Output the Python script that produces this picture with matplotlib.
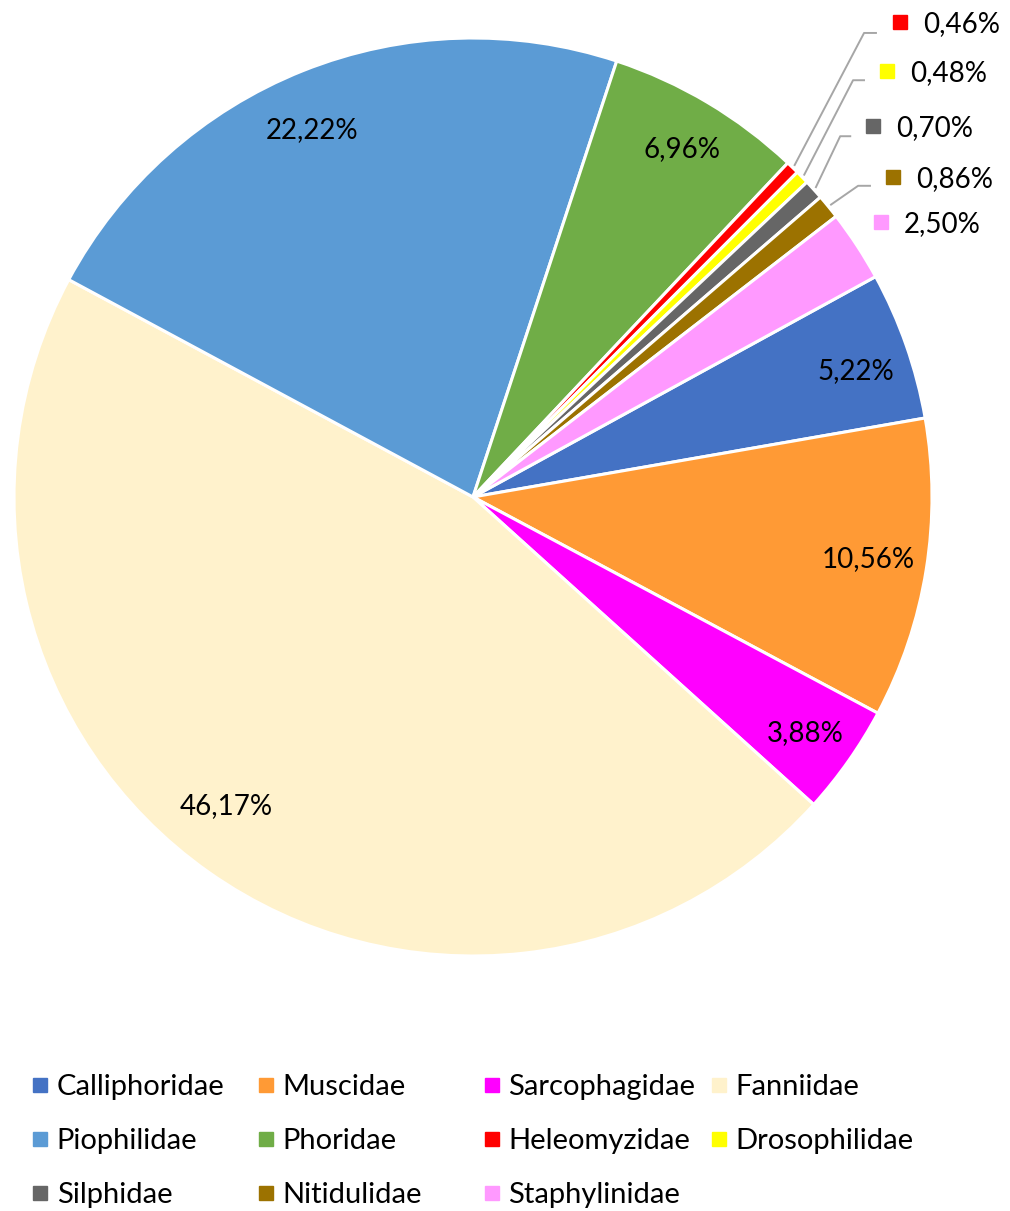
import matplotlib.pyplot as plt
import numpy as np

plt.rcParams['font.family'] = ['Lato', 'DejaVu Sans']

# 과(family)별 비율 (%)
families = ['Calliphoridae', 'Muscidae', 'Sarcophagidae', 'Fanniidae',
            'Piophilidae', 'Phoridae', 'Heleomyzidae', 'Drosophilidae',
            'Silphidae', 'Nitidulidae', 'Staphylinidae']
shares = [5.22, 10.56, 3.88, 46.17, 22.22, 6.96, 0.46, 0.48, 0.70, 0.86, 2.50]
colors = ['#4472C4', '#FF9A35', '#FF00FF', '#FFF2CC', '#5B9BD5', '#70AD47',
          '#FF0000', '#FFFF00', '#666666', '#9C7200', '#FF99FF']

# 안쪽 라벨 위치 (반지름 단위)
inside_pos = {
    'Calliphoridae': (0.834, 0.279),
    'Muscidae': (0.861, -0.131),
    'Sarcophagidae': (0.725, -0.510),
    'Fanniidae': (-0.538, -0.669),
    'Piophilidae': (-0.351, 0.804),
    'Phoridae': (0.455, 0.763),
}
# 바깥 라벨: 색 사각형 위치, 지시선 꺾임점
outside_pos = {
    'Heleomyzidae': ((0.930, 1.035), (0.852, 1.011), 0.880),
    'Drosophilidae': ((0.902, 0.928), (0.828, 0.908), 0.854),
    'Silphidae': ((0.871, 0.808), (0.800, 0.786), 0.824),
    'Nitidulidae': ((0.915, 0.697), (0.839, 0.678), 0.867),
    'Staphylinidae': ((0.889, 0.599), None, None),
}

R = 459.0
fig = plt.figure(figsize=(10.10, 12.11), dpi=100)
ax = fig.add_axes([0, 0, 1, 1])

start = 28.7
wedges, _ = ax.pie(shares, colors=colors, startangle=start, counterclock=False,
                   wedgeprops=dict(edgecolor='white', linewidth=2.2))


def pct(v):
    return '{:.2f}%'.format(v).replace('.', ',')


fs = 20
dy = -0.005  # 글자 세로 보정
for i, name in enumerate(families):
    w = wedges[i]
    mid = np.deg2rad((w.theta1 + w.theta2) / 2)
    if name in inside_pos:
        x, y = inside_pos[name]
        ax.text(x, y + dy, pct(shares[i]), ha='center', va='center', fontsize=fs)
    else:
        (mx, my), elbow, end_x = outside_pos[name]
        ax.plot([mx], [my], marker='s', markersize=10, color=colors[i], linestyle='none')
        ax.text(mx + 0.050, my + dy, pct(shares[i]), ha='left', va='center', fontsize=fs)
        if elbow is not None:
            sx, sy = 1.005 * np.cos(mid), 1.005 * np.sin(mid)
            ax.plot([sx, elbow[0], end_x], [sy, elbow[1], elbow[1]],
                    color='#A6A6A6', linewidth=1.4, solid_capstyle='butt')

# 범례 (4열)
col_x = [-0.943, -0.451, 0.041, 0.536]
row_y = [-1.281, -1.399, -1.516]
for i, name in enumerate(families):
    cx = col_x[i % 4]
    cy = row_y[i // 4]
    ax.plot([cx], [cy], marker='s', markersize=9.4, color=colors[i], linestyle='none')
    ax.text(cx + 0.036, cy + dy, name, ha='left', va='center', fontsize=21)

ax.set_xlim(-473 / R, (1010 - 473) / R)
ax.set_ylim(-(1211 - 497) / R, 497 / R)
ax.set_aspect('auto')
ax.axis('off')

plt.savefig('out.png', dpi=100)
